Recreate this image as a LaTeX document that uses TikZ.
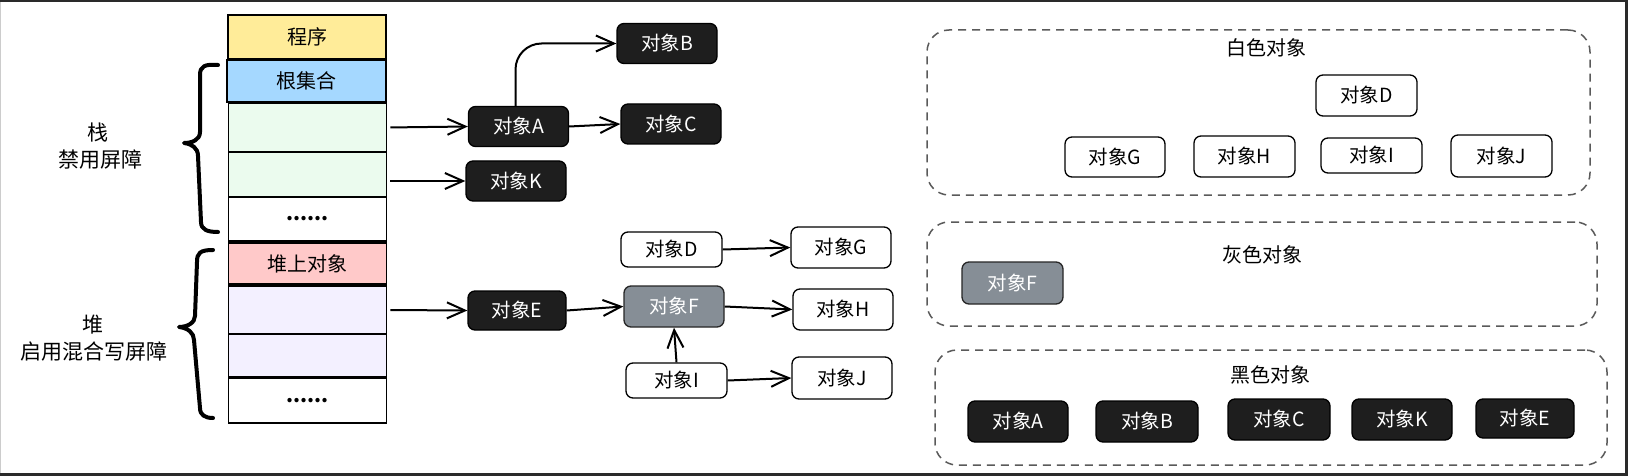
\documentclass[tikz,border=0pt]{standalone}
\usepackage{fontspec}
\setmainfont{Noto Sans CJK SC}
\usetikzlibrary{arrows.meta}
\definecolor{cyellow}{HTML}{FFEC99}
\definecolor{cblue}{HTML}{A5D8FF}
\definecolor{cgreen}{HTML}{EBFBEE}
\definecolor{cpink}{HTML}{FFC9C9}
\definecolor{cpurple}{HTML}{F3F0FF}
\definecolor{objblack}{HTML}{1E1E1E}
\definecolor{objgray}{HTML}{868E96}
\definecolor{grpgray}{HTML}{5A5A5A}
\definecolor{framecol}{HTML}{2A2A2A}
\begin{document}
\begin{tikzpicture}[x=1pt,y=-1pt,
  stk/.style={draw=black, line width=1.8pt, minimum width=158pt, inner sep=0pt, font=\fontsize{20}{24}\selectfont},
  obj/.style={rounded corners=7pt, line width=1.3pt, minimum width=100pt, minimum height=40pt, inner sep=0pt, font=\fontsize{19.5}{22}\selectfont},
  blk/.style={obj, draw=black, fill=objblack, text=white},
  wht/.style={obj, draw=black, fill=white, text=black},
  gry/.style={obj, draw=black!85, fill=objgray, text=white},
  grp/.style={draw=grpgray, dash pattern=on 8pt off 6pt, line width=1.5pt, rounded corners=22pt, inner sep=0pt},
  lbl/.style={inner sep=0pt, font=\fontsize{21}{24}\selectfont},
  ttl/.style={inner sep=0pt, font=\fontsize{20}{24}\selectfont},
  arr/.style={draw=black, line width=2pt, -{Straight Barb[length=18pt,width=16pt]}},
  brc/.style={draw=black, line width=4pt, line join=round, line cap=round}
]
\useasboundingbox (0,0) rectangle (1628,476);
\fill[framecol] (0,0) rectangle (1628,476);
\fill[white] (0,2.5) rectangle (1625,473);
\draw[black!20, line width=1pt] (0.5,2.5) -- (0.5,473);

% stack column
\node[stk, fill=cyellow, minimum height=44pt] (prog) at (307,37) {程序};
\node[stk, fill=cblue, minimum height=42pt, minimum width=159pt] (root) at (306.5,81) {根集合};
\node[stk, fill=cgreen, minimum height=49pt] (gb1) at (307.5,127.5) {};
\node[stk, fill=cgreen, minimum height=45pt] (gb2) at (307.5,174.5) {};
\node[stk, fill=white, minimum height=44pt] (wb1) at (307.5,219) {\textbf{......}};
\node[stk, fill=cpink, minimum height=41pt] (pk) at (307.5,263.5) {堆上对象};
\node[stk, fill=cpurple, minimum height=48pt] (pp1) at (307.5,310) {};
\node[stk, fill=cpurple, minimum height=43pt] (pp2) at (307.5,355.5) {};
\node[stk, fill=white, minimum height=45pt] (wb2) at (307.5,400.5) {\textbf{......}};

% braces
\draw[brc] (218,65) .. controls (205,64) and (200,66) .. (200,75) -- (200,132)
  .. controls (200,140) and (192,143) .. (184,143)
  .. controls (192,144) and (198,148) .. (198,156) -- (201,222)
  .. controls (201,230) and (208,232) .. (218,232);
\draw[brc] (213,250) .. controls (200,250) and (197,253) .. (197,262) -- (195,316)
  .. controls (195,323) and (187,327) .. (179,327)
  .. controls (188,328) and (194,333) .. (194,340) -- (200,408)
  .. controls (200,415) and (205,418) .. (213,418);

% labels
\node[lbl] (l1) at (98,133) {栈};
\node[lbl] (l2) at (100,160) {禁用屏障};
\node[lbl] (l3) at (93,325) {堆};
\node[lbl] (l4) at (94,352) {启用混合写屏障};

% object graph
\node[blk] (A) at (518.5,126.5) {对象A};
\node[blk] (B) at (667,43.5) {对象B};
\node[blk] (C) at (671,124) {对象C};
\node[blk] (K) at (516,181) {对象K};
\node[wht, minimum width=101pt, minimum height=35pt] (D) at (671.5,249.5) {对象D};
\node[wht, minimum height=41pt] (G) at (841,247.5) {对象G};
\node[blk, minimum width=98pt, minimum height=39pt] (E) at (517,310.5) {对象E};
\node[gry, minimum height=41pt] (F) at (674,306.5) {对象F};
\node[wht, minimum height=41pt] (H) at (843,309.5) {对象H};
\node[wht, minimum width=101pt, minimum height=35pt] (I) at (676.5,380.5) {对象I};
\node[wht, minimum height=42pt] (J) at (842,378) {对象J};

\draw[arr, shorten <=3pt] (gb1.east) -- (A.west);
\draw[arr, shorten <=3pt] (gb2.east |- K.west) -- (K.west);
\draw[arr, rounded corners=26pt] ([xshift=-3pt]A.north) |- (B.west);
\draw[arr] (A.east) -- (C.west);
\draw[arr, shorten <=3pt] (pp1.east) -- (E.west);
\draw[arr] (E.east) -- (F.west);
\draw[arr] (D.east) -- (G.west);
\draw[arr] (F.east) -- (H.west);
\draw[arr] (I.north) -- (F.south);
\draw[arr] (I.east) -- (J.west);

% groups
\node[grp, minimum width=663pt, minimum height=165pt] (wgrp) at (1258.5,112.5) {};
\node[ttl] (wt) at (1266,48) {白色对象};
\node[wht, minimum width=101pt, minimum height=41pt] (D2) at (1366.5,95.5) {对象D};
\node[wht] (G2) at (1115,157) {对象G};
\node[wht, minimum width=101pt, minimum height=41pt] (H2) at (1244.5,156.5) {对象H};
\node[wht, minimum width=101pt, minimum height=35pt] (I2) at (1371.5,155.5) {对象I};
\node[wht, minimum width=101pt, minimum height=42pt] (J2) at (1501.5,156) {对象J};

\node[grp, minimum width=670pt, minimum height=104pt] (ggrp) at (1262,274) {};
\node[ttl] (gt) at (1262,255) {灰色对象};
\node[gry, minimum width=101pt, minimum height=42pt] (F2) at (1012.5,283) {对象F};

\node[grp, minimum width=672pt, minimum height=115pt] (bgrp) at (1271,407.5) {};
\node[ttl] (bt) at (1270,375) {黑色对象};
\node[blk, minimum height=41pt] (A2) at (1018,421.5) {对象A};
\node[blk, minimum width=102pt, minimum height=41pt] (B2) at (1147,421.5) {对象B};
\node[blk, minimum width=102pt, minimum height=41pt] (C2) at (1279,419.5) {对象C};
\node[blk, minimum height=41pt] (K2) at (1402,419.5) {对象K};
\node[blk, minimum width=98pt, minimum height=39pt] (E2) at (1525,418.5) {对象E};
\end{tikzpicture}
\end{document}
